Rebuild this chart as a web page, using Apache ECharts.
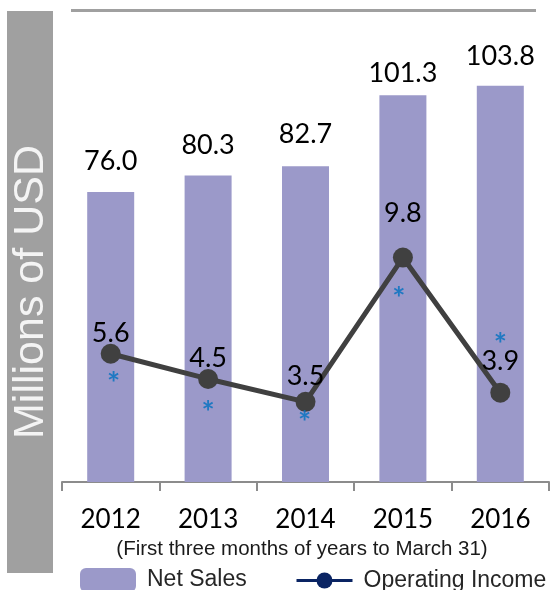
<!DOCTYPE html>
<html>
<head>
<meta charset="utf-8">
<script src="https://cdn.jsdelivr.net/npm/echarts@6/dist/echarts.min.js"></script>
<style>
html,body{margin:0;padding:0;background:#fff;}
#chart{width:556px;height:590px;}
</style>
</head>
<body>
<div id="chart"></div>
<script>
// ---- data ----
const years = ['2012', '2013', '2014', '2015', '2016'];
const netSales = [76.0, 80.3, 82.7, 101.3, 103.8];
const operatingIncome = [5.6, 4.5, 3.5, 9.8, 3.9];
const subtitleText = '(First three months of years to March 31)';
const yAxisTitle = 'Millions of USD';

// ---- styling (label placement tweaks, not data) ----
const barLabelGap = [17, 17, 19, 9, 16];
const lineLabelLift = [20, 21, 26, 44, 31];
const starShift = [[3, 30], [0, 34], [-1, 21], [-4, 41], [0, -48]];

const chart = echarts.init(document.getElementById('chart'), null, {renderer: 'canvas'});

const numFont = 'Lato, "Open Sans", sans-serif';
const arial = '"Liberation Sans", Arial, sans-serif';

const option = {
  animation: false,
  backgroundColor: '#ffffff',
  grid: {left: 62, right: 7, top: 24, bottom: 108, containLabel: false},
  xAxis: {
    type: 'category',
    data: years,
    boundaryGap: true,
    axisLine: {show: true, lineStyle: {color: '#8c8c8c', width: 2}},
    axisTick: {show: true, length: 9, lineStyle: {color: '#8c8c8c', width: 2}},
    axisLabel: {margin: 25, color: '#000', fontFamily: numFont, fontSize: 26}
  },
  yAxis: [
    {type: 'value', min: 0, max: 120, show: false, splitLine: {show: false}},
    {type: 'value', min: 0, max: 20, show: false, splitLine: {show: false}}
  ],
  legend: [
    {
      data: [{name: 'Net Sales'}],
      left: 80, top: 568, padding: 0,
      itemWidth: 56, itemHeight: 24,
      textStyle: {fontFamily: arial, fontSize: 23, color: '#262626', padding: [0, 0, 0, 6]}
    },
    {
      data: [{name: 'Operating Income', itemStyle: {color: '#0a2463'}, lineStyle: {color: '#0a2463', width: 3}}],
      left: 295, top: 569, padding: 0,
      itemWidth: 56, itemHeight: 20,
      textStyle: {fontFamily: arial, fontSize: 23, color: '#262626', padding: [0, 0, 0, 6]}
    }
  ],
  series: [
    {
      name: 'Net Sales',
      type: 'bar',
      barWidth: 47,
      itemStyle: {color: '#9b99c9'},
      data: netSales.map((v, i) => ({value: v, label: {distance: barLabelGap[i]}})),
      label: {
        show: true, position: 'top',
        formatter: p => p.value.toFixed(1),
        color: '#000', fontFamily: numFont, fontSize: 27
      },
      z: 2
    },
    {
      name: 'Operating Income',
      type: 'line',
      yAxisIndex: 1,
      symbol: 'circle',
      symbolSize: 20,
      lineStyle: {color: '#404040', width: 5},
      itemStyle: {color: '#404040'},
      data: operatingIncome.map((v, i) => ({value: v, label: {offset: [0, -lineLabelLift[i]]}})),
      label: {
        show: true, position: 'inside',
        formatter: p => p.value.toFixed(1),
        color: '#000', fontFamily: numFont, fontSize: 27
      },
      z: 3
    },
    {
      name: 'note',
      type: 'scatter',
      yAxisIndex: 1,
      symbolSize: 1,
      itemStyle: {color: 'rgba(0,0,0,0)'},
      data: operatingIncome.map((v, i) => ({value: v, label: {offset: starShift[i]}})),
      label: {
        show: true, position: 'inside',
        formatter: '*',
        color: '#0070c0', fontFamily: numFont, fontSize: 31, fontWeight: 'bold'
      },
      silent: true,
      z: 4
    }
  ],
  graphic: [
    {type: 'rect', shape: {x: 7, y: 11, width: 46, height: 562}, style: {fill: '#a0a0a0'}, z: -1},
    {type: 'line', shape: {x1: 71, y1: 10.5, x2: 536, y2: 10.5}, style: {stroke: '#a0a0a0', lineWidth: 3}},
    {
      type: 'text', x: 31, y: 292, rotation: Math.PI / 2,
      style: {text: yAxisTitle, fill: '#f4f4f4', font: '43px "Liberation Sans", Arial, sans-serif',
              textAlign: 'center', textVerticalAlign: 'middle'}
    },
    {
      type: 'text', x: 302, y: 549,
      style: {text: subtitleText, fill: '#1a1a1a', font: '20.5px "Liberation Sans", Arial, sans-serif',
              textAlign: 'center', textVerticalAlign: 'middle'}
    }
  ]
};
chart.setOption(option);
</script>
</body>
</html>
